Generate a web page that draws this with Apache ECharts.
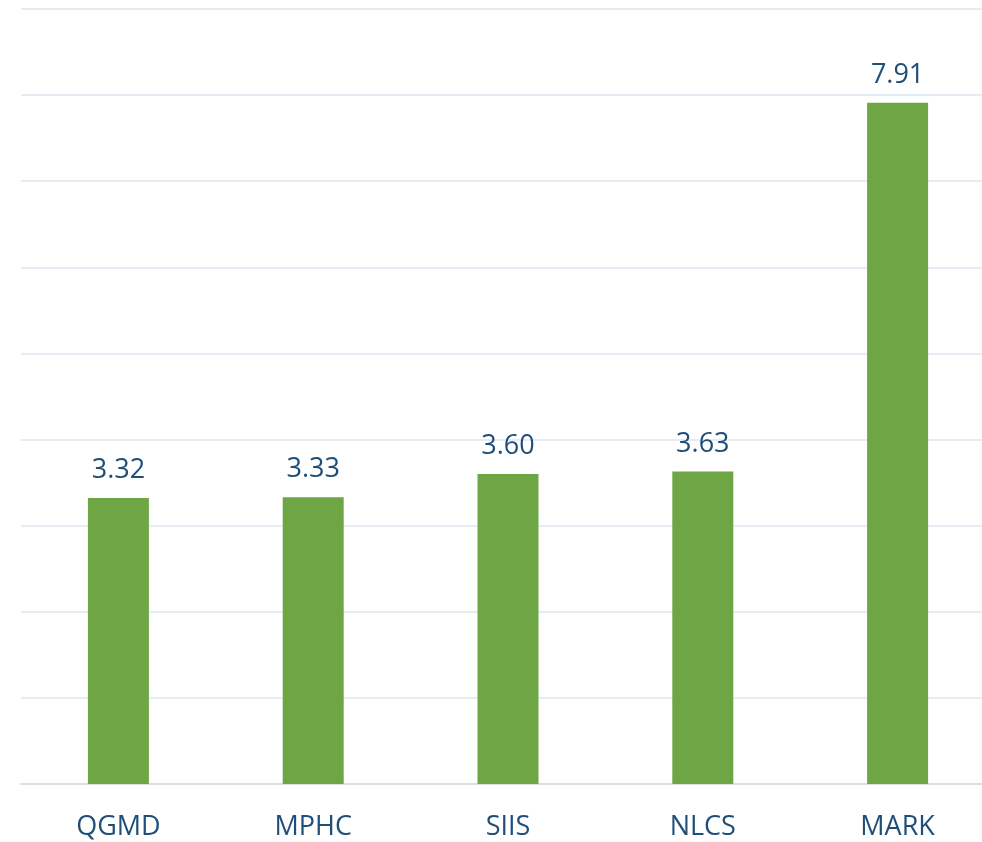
<!DOCTYPE html>
<html><head><meta charset="utf-8">
<script src="https://cdn.jsdelivr.net/npm/echarts@6/dist/echarts.min.js"></script>
<style>html,body{margin:0;padding:0;background:#fff}#c{width:982px;height:842px}</style>
</head><body><div id="c"></div>
<script>
const categories = ["QGMD", "MPHC", "SIIS", "NLCS", "MARK"];
const values = [3.32, 3.33, 3.60, 3.63, 7.91];

const chart = echarts.init(document.getElementById('c'), null, {renderer: 'canvas'});
chart.setOption({
  animation: false,
  grid: {left: 21, width: 974, top: 9, bottom: 58, outerBoundsMode: 'none', containLabel: false},
  xAxis: {
    type: 'category', data: categories,
    axisLine: {lineStyle: {color: '#D9D9D9', width: 1.5}},
    axisTick: {show: false},
    axisLabel: {color: '#1F4E79', fontSize: 27, fontFamily: 'Open Sans', margin: 30}
  },
  yAxis: {
    type: 'value', min: 0, max: 9, interval: 1,
    axisLabel: {show: false}, axisLine: {show: false}, axisTick: {show: false},
    splitLine: {lineStyle: {color: '#DCE6F2', width: 1.5}}
  },
  series: [{
    type: 'bar', data: values, barWidth: 61,
    itemStyle: {color: '#6EA545'},
    label: {show: true, position: 'top', distance: 14, color: '#1F4E79', fontSize: 27, fontFamily: 'Open Sans',
      formatter: p => p.value.toFixed(2)}
  }]
});
</script></body></html>
